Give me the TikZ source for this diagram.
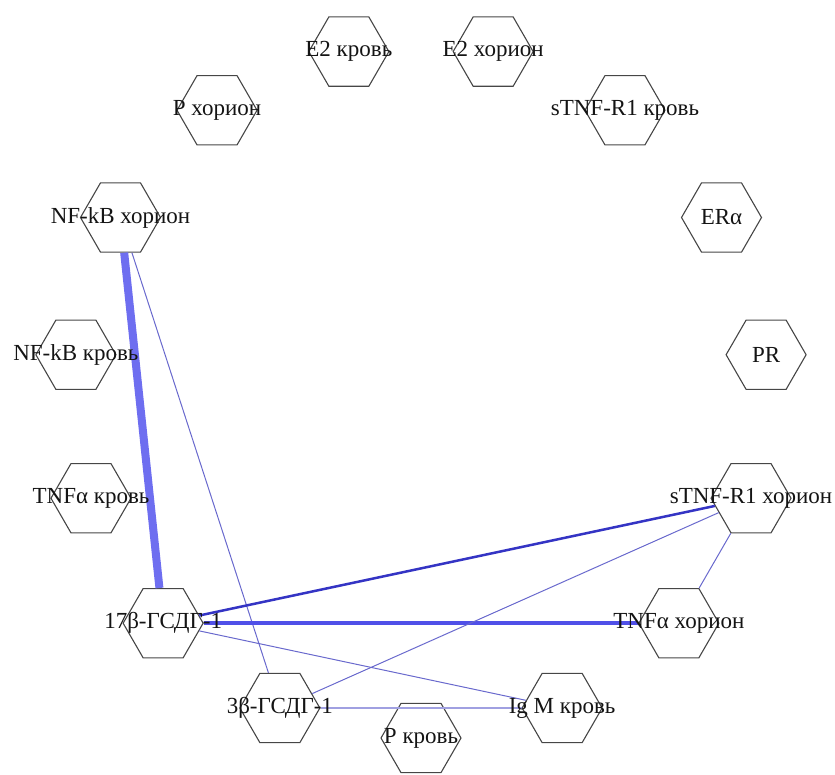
\documentclass[tikz,border=0pt]{standalone}
\usepackage{fontspec}
\setmainfont{Liberation Serif}
\usetikzlibrary{shapes.geometric}
\definecolor{hexline}{RGB}{70,70,70}
\definecolor{ethick}{RGB}{110,110,240}
\definecolor{emid}{RGB}{80,80,232}
\definecolor{edark}{RGB}{52,52,196}
\definecolor{ethin}{RGB}{105,105,205}
\definecolor{elight}{RGB}{160,160,225}
\tikzset{
  hexnode/.style={regular polygon, regular polygon sides=6, minimum size=80pt, inner sep=0pt, draw=hexline, line width=1.1pt},
  lbl/.style={inner sep=0pt, text=black!92, font=\fontsize{23}{27}\selectfont},
  wthick/.style={draw=ethick, line width=8pt},
  wmid/.style={draw=emid, line width=4pt},
  wdark/.style={draw=edark, line width=2.5pt},
  wthin/.style={draw=ethin, line width=1pt},
  wlight/.style={draw=elight, line width=2pt}
}
\begin{document}
\begin{tikzpicture}
\useasboundingbox (0pt,0pt) rectangle (835pt,-774pt);
\begin{scope}[shift={(421pt,-391pt)}]
\node[hexnode] (pk) at (270:347pt) {};
\node[hexnode] (igm) at (294:347pt) {};
\node[hexnode] (tnfh) at (318:347pt) {};
\node[hexnode] (stnfh) at (342:347pt) {};
\node[hexnode] (pr) at (6:347pt) {};
\node[hexnode] (era) at (30:347pt) {};
\node[hexnode] (stnfk) at (54:347pt) {};
\node[hexnode] (e2h) at (78:347pt) {};
\node[hexnode] (e2k) at (102:347pt) {};
\node[hexnode] (ph) at (126:347pt) {};
\node[hexnode] (nfh) at (150:347pt) {};
\node[hexnode] (nfk) at (174:347pt) {};
\node[hexnode] (tnfk) at (198:347pt) {};
\node[hexnode] (g17) at (222:347pt) {};
\node[hexnode] (g3) at (246:347pt) {};

\draw[wthick] (nfh) -- (g17);
\draw[wthin] (nfh) -- (g3);
\draw[wmid] (g17) -- (tnfh);
\draw[wdark] (g17) -- (stnfh);
\draw[wthin] (g17) -- (igm);
\draw[wthin] (g3) -- (stnfh);
\draw[wlight] (g3) -- (igm);
\draw[wthin] (stnfh) -- (tnfh);

\node[lbl] at (pk) {P кровь};
\node[lbl] at (igm) {Ig M кровь};
\node[lbl] at (tnfh) {TNFα хорион};
\node[lbl] at (stnfh) {sTNF-R1 хорион};
\node[lbl] at (pr) {PR};
\node[lbl] at (era) {ERα};
\node[lbl] at (stnfk) {sTNF-R1 кровь};
\node[lbl] at (e2h) {E2 хорион};
\node[lbl] at (e2k) {E2 кровь};
\node[lbl] at (ph) {P хорион};
\node[lbl] at (nfh) {NF-kB хорион};
\node[lbl] at (nfk) {NF-kB кровь};
\node[lbl] at (tnfk) {TNFα кровь};
\node[lbl] at (g17) {17β-ГСДГ-1};
\node[lbl] at (g3) {3β-ГСДГ-1};
\end{scope}
\end{tikzpicture}
\end{document}
